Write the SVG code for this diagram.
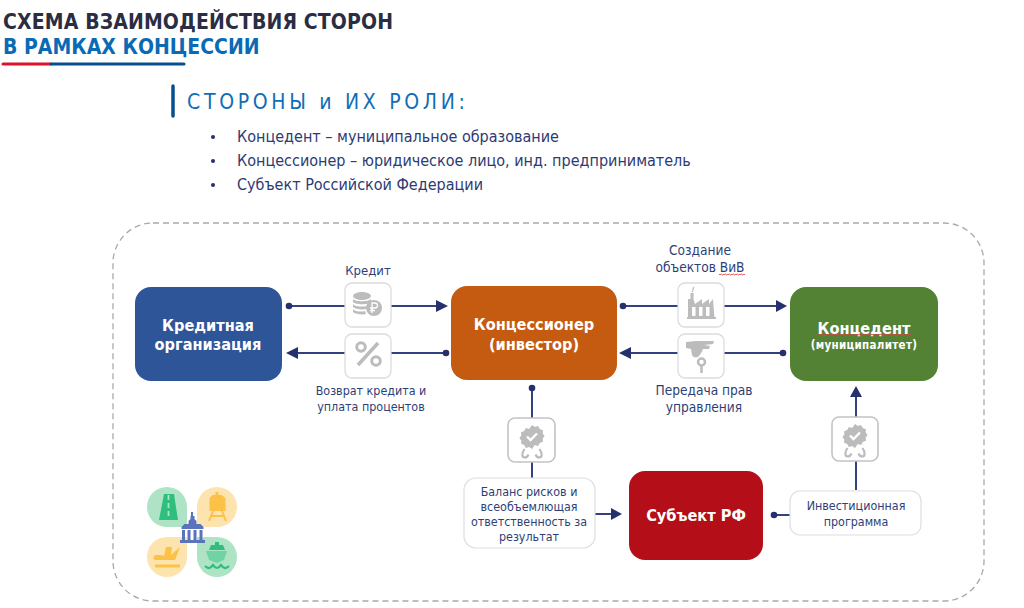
<svg xmlns="http://www.w3.org/2000/svg" width="1024" height="608" viewBox="0 0 1024 608">
<style>
text{font-family:"DejaVu Sans Condensed","DejaVu Sans",sans-serif}
.lab{font-size:13px;fill:#2e3f78;text-anchor:middle}
.up{font-size:13.600px}
.sm{font-size:12.400px}
.li{font-size:16px;fill:#2d3a74}
.node{font-size:16.200px;font-weight:700;fill:#fff;text-anchor:middle}
.line{stroke:#33417f;stroke-width:2;fill:none}
.tile{fill:#fff;stroke:#dcdcdc;stroke-width:1.300}
.tile2{fill:#fff;stroke:#c4c4c4;stroke-width:1.600}
.box{fill:#fff;stroke:#dedede;stroke-width:1.200}
.ic{fill:#bcbcbc}
.ics{stroke:#bcbcbc;fill:none}
.dot{fill:#25306e}
.head{fill:#25306e}
</style>
<defs>
<pattern id="squiggle" width="4" height="3" patternUnits="userSpaceOnUse">
<path d="M0 2.200L1 .8L3 2.200L4 .8" fill="none" stroke="#d9433f" stroke-width=".8"/>
</pattern>
<g id="award">
<path class="ic" d="M0-12l2.800 1.900 3.300-.8 1.700 2.900 3.100 1.200-.2 3.400 1.900 2.400-1.900 2.400.2 3.400-3.100 1.200-1.700 2.900-3.300-.8L0 12l-2.800-1.900-3.300.8-1.700-2.900-3.100-1.200.2-3.400L-12.600 1l1.900-2.400-.2-3.400 3.100-1.200 1.700-2.900 3.300.8z"/>
<path d="M-5-.5l3.500 3.500L5-3.500" fill="none" stroke="#fff" stroke-width="2.400"/>
<path class="ics" stroke-width="2.200" d="M-7.500 12c-2 3-2.500 6-1.500 8 2.500 1 4.500 0 5.500-2.500M7.500 12c2 3 2.500 6 1.500 8-2.500 1-4.500 0-5.500-2.500"/>
</g>
</defs>

<!-- page heading -->
<g id="heading">
<text x="3" y="29" font-size="21" font-weight="700" fill="#2b2d42" textLength="390">СХЕМА ВЗАИМОДЕЙСТВИЯ СТОРОН</text>
<text x="3" y="54" font-size="21" font-weight="700" fill="#0a6ab4">В РАМКАХ КОНЦЕССИИ</text>
<path d="M3 64H51" stroke="#d9142b" stroke-width="3" stroke-linecap="round"/>
<path d="M51 64H184" stroke="#07508f" stroke-width="3" stroke-linecap="round"/>
</g>

<!-- roles list -->
<g id="roles">
<path d="M173 86V116" stroke="#07508f" stroke-width="3.500" stroke-linecap="round"/>
<text x="187" y="109" font-size="21" fill="#0f6db8" letter-spacing="3.700">СТОРОНЫ и ИХ РОЛИ:</text>
<circle cx="213" cy="137" r="2" class="dot"/><circle cx="213" cy="161" r="2" class="dot"/><circle cx="213" cy="185" r="2" class="dot"/>
<text class="li" x="237" y="142">Концедент – муниципальное образование</text>
<text class="li" x="237" y="166">Концессионер – юридическое лицо, инд. предприниматель</text>
<text class="li" x="237" y="190">Субъект Российской Федерации</text>
</g>

<rect id="frame" x="113" y="223" width="871" height="378" rx="40" fill="none" stroke="#a9a9a9" stroke-width="1.300" stroke-dasharray="6 4"/>

<!-- connectors -->
<g id="connectors">
<path class="line" d="M289 306H436"/><path class="head" d="M436 300L448 306L436 312z"/><circle class="dot" cx="289" cy="306" r="3.300"/>
<path class="line" d="M446 353H298"/><path class="head" d="M298 347L286 353L298 359z"/><circle class="dot" cx="446" cy="353" r="3.300"/>
<path class="line" d="M623 306H777"/><path class="head" d="M776 300L787 306L776 312z"/><circle class="dot" cx="623" cy="306" r="3.300"/>
<path class="line" d="M783 353H630"/><path class="head" d="M631 347L619 353L631 359z"/><circle class="dot" cx="783" cy="353" r="3.300"/>
<path class="line" d="M532 388V478"/><circle class="dot" cx="532" cy="388" r="3.300"/>
<path class="line" d="M595 514H612"/><path class="head" d="M611 508L622 514L611 520z"/>
<path class="line" d="M856 490V396"/><path class="head" d="M850 397L856 386L862 397z"/>
<path class="line" d="M774 515H790"/><circle class="dot" cx="774" cy="515" r="3.300"/>
</g>

<!-- main parties -->
<g id="bank"><rect x="135" y="287" width="147" height="94" rx="16" fill="#2e5597"/>
<text class="node" x="208" y="331">Кредитная</text><text class="node" x="208" y="350">организация</text></g>
<g id="investor"><rect x="451" y="286" width="166" height="94" rx="16" fill="#c55a11"/>
<text class="node" x="534" y="330">Концессионер</text><text class="node" x="534" y="350">(инвестор)</text></g>
<g id="grantor"><rect x="790" y="287" width="148" height="94" rx="16" fill="#548235"/>
<text class="node" x="864" y="334">Концедент</text><text x="864" y="349" text-anchor="middle" font-size="11.500" font-weight="700" fill="#fff" letter-spacing=".3">(муниципалитет)</text>
<rect x="818" y="334" width="93" height="3" fill="url(#squiggle)"/></g>
<g id="subject"><rect x="629" y="471" width="134" height="89" rx="16" fill="#b40f18"/>
<text class="node" x="696" y="521">Субъект РФ</text></g>

<!-- captions -->
<g id="captions">
<text class="lab" x="368" y="275">Кредит</text>
<text class="lab sm" x="371" y="395">Возврат кредита и</text><text class="lab sm" x="371" y="411">уплата процентов</text>
<text class="lab up" x="700" y="255">Создание</text><text class="lab up" x="700" y="272">объектов ВиВ</text>
<rect x="719" y="273" width="26" height="3" fill="url(#squiggle)"/>
<text class="lab up" x="704" y="395">Передача прав</text><text class="lab up" x="704" y="412">управления</text>
</g>

<!-- icon tiles -->
<g id="coins"><rect class="tile" x="345" y="283" width="46" height="44" rx="7"/>
<ellipse class="ic" cx="362" cy="296" rx="9" ry="4"/>
<path class="ic" d="M353 299c2 3 16 3 18 0v3c-2 3-16 3-18 0zM353 304c2 3 12 3 14 2l-1 3c-4 1-11 0-13-2zM353 309c2 3 9 3 12 2l1 3c-4 1-11 0-13-2z"/>
<circle class="ic" cx="374" cy="308" r="8"/>
<path d="M372 313V303h3a2.500 2.500 0 0 1 0 5h-5M370 310.500h5" stroke="#fff" stroke-width="1.300" fill="none"/></g>

<g id="percent"><rect class="tile" x="345" y="334" width="46" height="44" rx="7"/>
<circle cx="361" cy="347" r="4.300" fill="none" stroke="#bcbcbc" stroke-width="3"/>
<circle cx="376" cy="361" r="4.300" fill="none" stroke="#bcbcbc" stroke-width="3"/>
<path d="M378 343L358 365" stroke="#bcbcbc" stroke-width="3.500"/></g>

<g id="factory"><rect class="tile" x="678" y="283" width="46" height="44" rx="7"/>
<path class="ic" d="M688 318v-19h2.500v-6h3v6l1.500 5 7-5v5l7-5v5l4-5 1.500 20z"/>
<rect x="692" y="307" width="3.500" height="9" fill="#fff"/><rect x="699" y="307" width="3.500" height="9" fill="#fff"/><rect x="706" y="307" width="3.500" height="9" fill="#fff"/>
<path d="M687 318H716" stroke="#bcbcbc" stroke-width="2"/>
<path class="ics" stroke-width="1.200" d="M692 292c2-2 0-3 2-5"/></g>

<g id="handover"><rect class="tile" x="678" y="334" width="46" height="44" rx="7"/>
<path class="ic" d="M686 342l10-1h18l-1 3-9 1 6 1-1 3h-6c-1 3-3 6-5 8-3 1-5 0-6-2l-1-6-5-1z"/>
<circle cx="701.500" cy="362" r="3.500" fill="none" stroke="#bcbcbc" stroke-width="2.500"/>
<path d="M701.500 366V373" stroke="#bcbcbc" stroke-width="2.500"/></g>

<g id="award-left"><rect class="tile2" x="508" y="418" width="47" height="44" rx="7"/><use href="#award" x="532" y="437"/></g>
<g id="award-right"><rect class="tile2" x="832" y="417" width="46" height="44" rx="7"/><use href="#award" x="855" y="436"/></g>

<!-- text boxes -->
<g id="balance"><rect class="box" x="464" y="478" width="131" height="70" rx="12"/>
<text class="lab sm" x="529" y="496">Баланс рисков и</text><text class="lab sm" x="529" y="511">всеобъемлющая</text><text class="lab sm" x="529" y="526">ответственность за</text><text class="lab sm" x="529" y="541">результат</text></g>
<g id="programme"><rect class="box" x="790" y="491" width="131" height="44" rx="10"/>
<text class="lab sm" x="856" y="510">Инвестиционная</text><text class="lab sm" x="856" y="526">программа</text></g>

<!-- infrastructure emblem -->
<g id="emblem">
<path fill="#aee3c6" d="M167 487a20 20 0 0 1 20 20v20h-20a20 20 0 0 1 0-40z"/>
<path fill="#fde3ae" d="M217 487a20 20 0 0 1 0 40h-20v-20a20 20 0 0 1 20-20z"/>
<path fill="#fde3ae" d="M167 537h20v20a20 20 0 1 1-20-20z"/>
<path fill="#aee3c6" d="M197 537h20a20 20 0 1 1-20 20z"/>
<path fill="#2fbf7d" d="M164 494h10l4 26h-19z"/>
<path d="M168.500 495V519" stroke="#aee3c6" stroke-width="1.800" stroke-dasharray="5 3"/>
<path fill="#fcc147" d="M215.500 492h3v3h3l4 3v13h-16v-13l3-3h3z"/>
<path stroke="#fcc147" stroke-width="2" fill="none" d="M213 511l-4 10M222 511l4 10M211 516h13"/>
<path fill="#fcc147" d="M155 555h6l3 1 2-9h6l-1 8 9-8-5 13h-19a2.500 2.500 0 0 1 0-5z"/>
<path d="M155 566H180" stroke="#fcc147" stroke-width="3"/>
<path fill="#2fbf7d" d="M215 542h4v3h4l2 5h-16l2-5h4z"/>
<path fill="#6fd3a4" d="M206 551h21l-3 9-7 3-8-3z"/>
<path d="M205 566c3 3 5 3 8-1 3 4 5 4 8 0 3 4 5 4 8 1" stroke="#2fbf7d" stroke-width="2.200" fill="none"/>
<path fill="#5a74bb" d="M191 512h2v4h1.500v3l2 2v3h4l3 3v2h-22v-2l3-3h4v-3l2-2v-3H191z"/>
<path fill="#5a74bb" d="M182 530h3v10h-3zM187.500 530h3v10h-3zM193.500 530h3v10h-3zM199.500 530h3v10h-3z"/>
<rect x="180" y="540" width="25" height="3" fill="#5a74bb"/>
</g>
</svg>
